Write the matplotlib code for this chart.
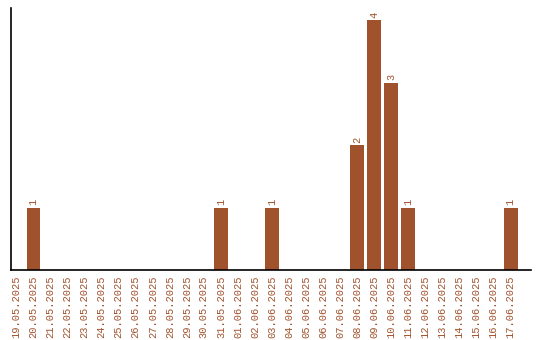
import matplotlib
matplotlib.use("Agg")
import matplotlib.pyplot as plt

# daily counts
dates = ["19.05.2025", "20.05.2025", "21.05.2025", "22.05.2025", "23.05.2025",
         "24.05.2025", "25.05.2025", "26.05.2025", "27.05.2025", "28.05.2025",
         "29.05.2025", "30.05.2025", "31.05.2025", "01.06.2025", "02.06.2025",
         "03.06.2025", "04.06.2025", "05.06.2025", "06.06.2025", "07.06.2025",
         "08.06.2025", "09.06.2025", "10.06.2025", "11.06.2025", "12.06.2025",
         "13.06.2025", "14.06.2025", "15.06.2025", "16.06.2025", "17.06.2025"]
counts = [0, 1, 0, 0, 0, 0, 0, 0, 0, 0,
          0, 0, 1, 0, 0, 1, 0, 0, 0, 0,
          2, 4, 3, 1, 0, 0, 0, 0, 0, 1]

color = "#a0522d"
plt.rcParams["font.family"] = ["Liberation Mono", "DejaVu Sans Mono"]

fig = plt.figure(figsize=(5.4, 3.4), dpi=100)
ax = fig.add_axes([11 / 540, 70 / 340, 520 / 540, 262 / 340])

x = range(len(dates))
bars = ax.bar(x, counts, width=0.82, color=color)

# value labels above non-zero bars
for xi, c in zip(x, counts):
    if c > 0:
        ax.text(xi, c + 0.04, str(c), rotation=90, ha="center", va="bottom",
                fontsize=7.5, color=color)

ax.set_xticks(list(x))
ax.set_xticklabels(dates, rotation=90, fontsize=7.5, color=color)
ax.tick_params(axis="x", length=0, pad=4)
ax.set_yticks([])
ax.set_xlim(-0.32, 30.2)
ax.set_ylim(0, 4.2)

ax.spines["top"].set_visible(False)
ax.spines["right"].set_visible(False)
ax.spines["left"].set_linewidth(1.2)
ax.spines["bottom"].set_linewidth(1.2)

fig.savefig("out.png", dpi=100)
